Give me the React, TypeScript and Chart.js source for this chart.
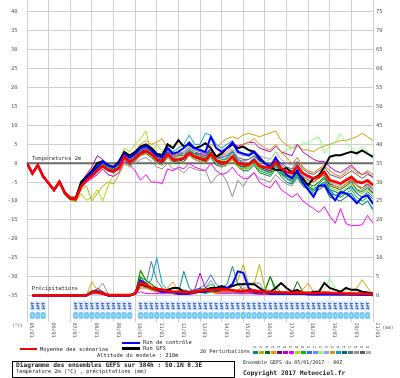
import React, { useEffect, useRef } from "react";
import { Chart, registerables } from "chart.js";
Chart.register(...registerables);

// ---------- data ----------
const dayLabels = ["05/01","06/01","07/01","08/01","09/01","10/01","11/01","12/01","13/01","14/01","15/01","16/01","17/01","18/01","19/01","20/01","21/01"];
const tempTicks = [40,35,30,25,20,15,10,5,0,-5,-10,-15,-20,-25,-30,-35];
const precipTicks = [75,70,65,60,55,50,45,40,35,30,25,20,15,10,5,0];
const stepHours = 6;
const hoursPerDay = 24;

const meanTemp = [0,-2.7,-0.5,-3.5,-5.3,-7.1,-4.9,-7.9,-9.3,-9.5, -6.2,-4.5,-3.3,-2,-0.7,-1.8,-2,-1.4, 1.7,0.3,1.3,2.6,3.3,2.4,1,0.6, 2.4,1,1,1.3,2.6,1.7,1.3,0.8, 2.4,0.8,0.2,0.3,1.8,0.1,-0.3,-0.3, 0.8,-0.7,-1,-1.3,0.3,-1.3,-2.3,-2.6, -0.8,-2.6,-3.4,-4,-3.6,-2.3,-4.5,-4.9, -5.4,-4.5,-3.6,-4.9,-5.2,-4.5,-5.8];
const controlTemp = [0,-2.7,-0.5,-3.5,-5.3,-7.1,-4.9,-7.9,-9.3,-9.5, -6,-4,-2.5,-1,0.5,-0.5,-1,0, 2.5,1.5,2.5,4,4.5,3.5,2,1.5, 4,2.5,3,4,5.5,4,3.5,3, 7,4,3,4,5.5,3,2.5,2, 3,1,0,-1,1.5,-1.5,-3,-4, -2,-5,-7,-8.9,-6,-5.8,-8,-9.8, -7.6,-8,-9,-10.6,-9,-8.5,-10.7];
const gfsTemp = [0,-2.7,-0.5,-3.5,-5.3,-7.1,-4.9,-7.9,-9.3,-9.5, -5,-3.5,-2,0,0.5,-0.5,-1,0.5, 3,2,3,4.4,5,4,2.5,2, 5,4,6.1,4.4,5,4,4.4,5.3, 4,1.7,2.5,4,5,4,4.4,3.5, 3,1.5,0,-1,-1.8,-1.8,-1.3,-2.5, -2.6,-4,-5.8,-4,-3.2,-1,1.7,2.1, 2.1,2.6,3,2.6,3.4,2.5,1.7];
const membersTemp = [
  [0,-2.6,-0.4,-3.4,-5.2,-7.0,-4.7,-7.7,-9.0,-9.2, -6,-4,-3,-1.5,0,-1,-1.5,-0.5, 2.5,1,2,3.5,4,3,1.5,1, 3,1.5,2,2,3.5,2.5,2,1.5, 3.5,1.5,1,1.2,3,0.5,-0.5,0, 1,-1,-2,-2.5,-0.5,-2.5,-4,-4.5, -2.5,-5,-6,-7,-5.5,-4,-7,-7.5, -8.5,-7,-6,-8,-9,-7.5,-9],
  [0,-2.8,-0.7,-3.7,-5.6,-7.4,-5.3,-8.3,-9.8,-10.2, -7,-6,-10,-8,-6,-5,-5.5,-3, 0,-1,1,2,2.5,2,0,-0.5, 1.5,0,0.5,0,2,1,0.5,0, 2,0,-1,-0.5,1,-1,-1.5,-1, 0.5,-1.5,-2,-2.5,-0.5,-2,-3,-3.5, -1,-3.5,-4.5,-5,-4,-3,-5,-6, -6.5,-5.5,-4,-6,-6.5,-5,-6.5],
  [0,-2.7,-0.5,-3.5,-5.3,-7.1,-4.9,-7.9,-9.3,-9.5, -5.5,-4,-2.5,-1.5,0,-1.5,-2,-1, 2,0.5,1.5,3,3.5,2.5,1,0.5, 2.5,0.5,1,1.5,3,2,1.5,1, 3,0.5,0,0.5,2,-0.5,-1,-1, 0.5,-1.5,-2,-2.5,-0.5,-2.5,-3.5,-4, -2,-4.5,-5.5,-6,-5,-3.5,-6,-6.5, -7,-6,-5,-7,-7.5,-6.5,-8],
  [0,-2.7,-0.4,-3.3,-5.1,-6.9,-4.6,-7.5,-8.8,-8.8, -6,-4,-3,-1.5,0,-1,-1,0, 3,2,3,5,6,5,5.5,6.5, 4,2,2.5,2,3.5,2.5,2,1, 3,1.5,2,3,5,4,5,5.5, 6.5,5,4,3.5,5,3,1.5,0, 1.5,-1,-2,-2.5,-1.5,-0.5,-2,-3, -3.5,-2.5,-1,-2.5,-3,-2,-3],
  [0,-2.7,-0.5,-3.5,-5.3,-7.1,-4.9,-7.9,-9.3,-9.5, -6,-4.5,-3.5,-2,-0.5,-2,-2.5,-1.5, 1.5,0,1,2,3,2,0.5,0, 2,0.5,0.5,1,2.5,1.5,1,0.5, 2.5,0.5,-0.5,0,1.5,-0.5,-1,-0.5, 0.5,-1,-1.5,-2,0,-2,-3,-3.5, -1.5,-3.5,-4.5,-5,-4,-3,-5.5,-6, -6.5,-5.5,-4.5,-6,-6.5,-5.5,-7],
  [0,-2.7,-0.4,-3.3,-5.1,-6.9,-4.6,-7.5,-8.8,-8.8, -5,-3,-1,2,1,-0.5,-1,0, 2,1,2,3,4,3,2,1.5, 3,2,2.5,2,3,2.5,2.5,2, 4,2,3,4,5.5,4.5,5,5.5, 5.5,4,3.5,3,4.5,3,2.5,2, 5,3,2,1,0.5,0.5,-1,-2, -2.5,-1.5,-0.5,-2,-3,-2.5,-4],
  [0,-2.8,-0.6,-3.6,-5.4,-7.3,-5.1,-8.1,-9.6,-9.8, -6.5,-5,-4,-3,-1.5,-3,-3.5,-2.5, 0.5,-0.5,-2,-4.5,-3,-5,-5,-5.4, -1.5,-2,-1,-1.5,0,-1,-1.5,-2, 0,-2,-3,-2.5,-1,-3,-4,-4, -2.5,-5,-6,-6.5,-4.5,-7,-8,-9, -8,-10,-11,-12,-13,-11.5,-14,-15.9, -12,-16,-16.5,-16.5,-16.3,-13.8,-15.9],
  [0,-2.8,-0.7,-3.7,-5.6,-7.4,-5.3,-8.3,-9.8,-10.2, -8,-9.8,-9,-7,-10,-6,-3,0, 4,3,5,6.5,8.5,2.6,5,3, 4.5,2,2.5,2,3.5,2.5,2,1.5, 3,1,0.5,1,2.5,0,-0.5,-0.5, 0.5,-1.5,-2,-2.5,-0.5,-2.5,-3.5,-4, -2,-4.5,-5.5,-6.5,-5,-4,-6.5,-7, -7.5,-6.5,-5.5,-7,-8,-7,-8.5],
  [0,-2.6,-0.4,-3.4,-5.2,-7.0,-4.7,-7.7,-9.0,-9.2, -5.5,-4,-3,-1.5,0,-1.5,-1.5,-1, 2,0.5,1.5,3,3.5,2.5,1,0.5, 2.5,1,1,1,2.5,1.5,1,0.5, 2,0,-1,-0.5,1,-1,-1.5,-1.5, 0,-2,-2.5,-3,-1,-3,-4,-5, -3,-5.5,-6.5,-7.5,-6,-5,-8,-8.5, -9,-8,-7,-9,-10,-9,-11],
  [0,-2.7,-0.5,-3.5,-5.3,-7.1,-4.9,-7.9,-9.3,-9.5, -5.5,-3.5,-2.5,-1,0.5,-1,-1,0, 2.5,1.5,2.5,4,4.5,3.5,2,1.5, 3.5,2,2.5,3,4.5,3.5,3,2.5, 4,2,1.5,2,3,1,0,0, 1.5,-0.5,-1.5,-2.5,0,-2.5,-4,-5, -3,-5.5,-6.5,-7.5,-6,-5,-7,-8.5, -8,-7,-6.5,-8,-9,-8,-9.5],
  [0,-2.6,-0.4,-3.4,-5.2,-7.0,-4.7,-7.7,-9.0,-9.2, -6,-4.5,-3,-2,-0.5,-2,-2,-1, 1.5,0,1,2.5,3,2,0.5,0, 2,0.5,0.5,1,2,1,0.5,0, 2,0,-0.5,0,1.5,-0.5,-1,-0.5, 1,-0.5,-1,-1.5,0.5,-1.5,-2.5,-3, -1,-3,-4,-4.5,-3.5,-2.5,-4.5,-5, -5.5,-4.5,-3.5,-5,-5.5,-4.5,-6],
  [0,-2.8,-0.6,-3.6,-5.4,-7.3,-5.1,-8.1,-9.6,-9.8, -6,-4.5,-3,-2,-0.5,-1.5,-2,-1, 2,0.5,1.5,3,3.5,2.5,1,0.5, 2.5,1,1.5,1.5,3,2,1.5,1, 2.5,1,0.5,1,2,0,-0.5,0, 1.5,0,0.5,1,3,2.5,3.5,4, 4,5.5,5,6.5,7,2.6,4.5,5.6, 7.8,5.5,4,3,4.5,3,1],
  [0,-2.7,-0.4,-3.3,-5.1,-6.9,-4.6,-7.5,-8.8,-8.8, -5.5,-4,-2.5,0,0.5,-1,-1.5,-0.5, 2,1,2,3,4,3,1.5,1, 3,1.5,2,2,3,2,2,1.5, 3,1.5,2,2.5,4,2.5,2,2.5, 3.5,2,1.5,1,3,1,0,-0.5, 1.5,-1,-2,-2.5,-1.5,-0.5,-2,-3, -3.5,-2,-1,-2.5,-3,-2,-3],
  [0,-2.6,-0.4,-3.4,-5.2,-7.0,-4.7,-7.7,-9.0,-9.2, -6,-4.5,-3.5,-2,-0.5,-1.5,-2,-1, 1.5,0.5,1.5,2.5,3,2.5,1,1, 2.5,1,1.5,1.5,3,2.5,2.5,3, 5,4,5.5,6.5,7,6.5,7.5,7.9, 7.5,7,7.5,8,8.5,6,4.8,4, 5,3.5,3.5,3,4,4.5,5,5.5, 6,6,6.5,7,7.9,7,6],
  [0,-2.7,-0.4,-3.3,-5.1,-6.9,-4.6,-7.5,-8.8,-8.8, -5,-3.5,-2,-0.5,1,-0.5,-1,0.5, 3,2,3,4.5,5,4,2.5,2.5, 4.5,3,4,5,7.4,5,5,7.9, 7.4,5,4,5,6,3.5,2.5,2.5, 3,1,0,-1,1,-1.5,-3,-4, -2,-4.5,-6,-7,-6,-5,-7.5,-8.5, -9,-8,-8,-10,-11,-10,-12],
  [0,-2.8,-0.6,-3.6,-5.4,-7.3,-5.1,-8.1,-9.6,-9.8, -6,-4.5,-3.5,-2,-1,-2,-2.5,-1.5, 1,-0.5,0.5,2,2.5,1.5,0,-0.5, 1.5,0,0,0.5,2,1,0.5,0, 1.5,-0.5,-1,-0.5,1,-1,-2,-2, -0.5,-2.5,-3,-3.5,-1.5,-3.5,-5,-5.5, -3.5,-6,-7,-8,-7,-6,-9,-9.5, -10,-9,-8,-10,-11,-10,-12.4],
  [0,-2.7,-0.5,-3.5,-5.3,-7.1,-4.9,-7.9,-9.3,-9.5, -5.5,-4,-3,-1.5,0,-1,-1.5,-0.5, 2.5,1.5,2,3.5,4,3,1.5,1, 3,1.5,2,2,3.5,2.5,2,1.5, 3,1,0.5,1.5,3,1,0.5,1, 2,0.5,0,-0.5,1.5,-0.5,-1.5,-2, 0,-2.5,-3.5,-4,-3,-2,-4.5,-5, -5.5,-4.5,-4,-6,-7,-6,-8],
  [0,-2.8,-0.7,-3.7,-5.6,-7.4,-5.3,-8.3,-9.8,-10.2, -6,-5,-4,-3,-1.5,-3,-3.5,-2.5, 0,-1,0,1,1.5,0.5,-1,-1.5, 0,-1.5,-1.5,-2.6,-1,-1.5,-2,-1.8, -5.3,-3.5,-2.6,-5,-8.9,-4.5,-6.2,-3.6, -2.5,-4,-4.5,-5,-3,-4.5,-5.5,-6, -4,-6,-6.5,-7,-6,-5,-7,-7.5, -8,-7,-6,-7.5,-8,-7,-7.5],
  [0,-2.6,-0.4,-3.4,-5.2,-7.0,-4.7,-7.7,-9.0,-9.2, -5.5,-4,-2.5,-1,0,-1,-1.5,0, 2.5,1.5,2.5,3.5,4,3,2,1.5, 3.5,2,2.5,2.5,4,3,2.5,2, 3.5,1.5,1.5,2,3.5,1.5,1,1, 2,0.5,0,-0.5,1.5,0,-1,-1.5, 0.5,-1.5,-2.5,-3,-2,-1,-3,-3.5, -4,-3,-2,-3,-4,-3,-3.5],
  [0,-2.8,-0.6,-3.6,-5.4,-7.3,-5.1,-8.1,-9.6,-9.8, -6,-4.5,-3.5,-2,-0.5,-2,-2.5,-1.5, 1.5,0,1,2.5,3,2,0.5,0, 2,0.5,1,1,2.5,1.5,1,0.5, 2.5,0.5,0,0.5,2,0,-0.5,-0.5, 1,-1,-1.5,-2,0,-2,-3,-3.5, -1.5,-3.5,-4.5,-5,-4,-3,-5,-5.5, -6,-5,-4,-5.5,-6.5,-5.5,-7],
];

const meanPrecip = [null,0,0,0,0,0,0,0,0,0,0,0, 1,0.8,0.5,0.2,0.1,0.1,0.1,0.1, 0.5,3.4,2.8,2,1.7,1.5,1.2,1, 1,0.9,0.8,1,1.2,1.4,1.5,1.6, 1.7,1.6,1.4,1.2,1.2,1.4,1.3,1.1, 1,0.9,0.9,0.8,0.8,0.7,0.8,0.7, 0.7,0.6,0.7,0.8,0.7,0.6,0.6,0.5, 0.5,0.5,0.5,0.4,0.3];
const controlPrecip = [null,0,0,0,0,0,0,0,0,0,0,0, 1,1,0.5,0,0,0,0,0, 0.5,4,3,2,1.5,1,1,1, 0.5,0.5,0.5,1,1,1,1.5,1.5, 2,2,3,6.4,6,2,1,1, 1,0.5,0.5,0.5,0.5,0.5,0.5,0.5, 0.3,0.3,0.3,0.3,0.3,0.3,0.3,0.3, 0.3,0.3,0.2,0.2,0.1];
const gfsPrecip = [null,0,0,0,0,0,0,0,0,0,0,0, 1,1,0.5,0,0,0,0,0, 0.5,3,2.5,2,1.5,1,1.5,2, 2,1,1,1,1,1.5,2,2, 2.5,2,2.5,3,3,3,3,2, 1,1,2,3.3,2,1,1.5,0.5, 0.5,1,1,3.3,2,1.5,1,2, 1.5,1.5,1,0.8,0.5];
const membersPrecip = [
  [null,0,0,0,0,0,0,0,0,0,0,0, 0.5,1,0.5,0,0,0,0,0, 1,4,3,2,1.5,1,1,0.5, 0.5,6.4,2,1,1,0.5,1,1.5, 2,3,7.7,3,1.5,1,1.5,1, 0.5,0.5,0.5,0.3,0.3,0.5,0.5,0.3, 0.3,0.2,0.2,0.5,0.3,0.2,0.2,0.2, 0.1,0.2,0.2,0.1,0.1],
  [null,0,0,0,0,0,0,0,0,0,0,0, 3.6,1.5,0.5,0,0,0,0,0, 0.5,3,2,1.5,1,2,1,0.5, 1,0.5,0.5,1,1,1.5,1,2, 2.5,2,3,4,8.2,3,3,8.2, 2,1,0.5,1,0.5,0.5,1,0.5, 0.5,0.3,0.5,0.5,0.5,0.5,0.3,0.5, 1,2,4.2,2,0.5],
  [null,0,0,0,0,0,0,0,0,0,0,0, 1,1.5,0.5,0,0,0,0,0, 0.5,6.5,4,3,2,1.5,1,1, 0.5,0.5,1,0.5,1,1,1.5,1, 1.5,2,1.5,1,1,1.5,1,1, 1.5,5,1,0.5,0.5,0.5,3.7,1, 0.5,0.5,0.5,0.3,0.5,0.3,0.3,0.3, 0.2,0.3,0.2,0.2,0.1],
  [null,0,0,0,0,0,0,0,0,0,0,0, 1,0.5,0.5,0,0,0,0,0, 0.5,2,2,1.5,1,1,2,3.6, 1,0.5,0.5,1,1,1,1,0.5, 1,1,1,1.5,1,1,1,1, 0.5,1,0.5,0.5,0.5,1,1,1.5, 3.3,1,0.5,0.5,0.5,0.5,1,0.5, 0.3,0.3,0.5,0.3,0.2],
  [null,0,0,0,0,0,0,0,0,0,0,0, 0.5,1,1,0,0,0,0,0, 0.5,4,3,2,2,1.5,1,0.5, 0.5,0.5,0.5,1,2,1,1,1, 1,1,1.5,1,1,1,0.5,0.5, 0.5,0.5,0.5,0.5,0.3,0.3,0.3,0.3, 0.3,0.3,0.3,0.3,0.3,0.3,0.3,0.3, 0.2,0.2,0.2,0.2,0.1],
  [null,0,0,0,0,0,0,0,0,0,0,0, 0.5,2,1,0,0,0,0,0, 0.5,3,2,1.5,1,1,1,1, 1,1,1,1.5,5.9,2,1,1.5, 2,1,1.5,1,1.5,1,1,1, 1,0.5,0.5,0.5,1,0.5,0.5,0.5, 0.5,0.5,0.5,0.5,0.3,0.3,0.3,0.3, 0.3,0.3,0.3,0.2,0.1],
  [null,0,0,0,0,0,0,0,0,0,0,0, 0.5,0.5,0.5,0,0,0,0,0, 0.5,1,0.5,0.5,0.5,0.5,0.5,0.5, 0.3,0.3,0.3,0.5,1,1.5,1,0.5, 0.5,0.5,0.5,0.5,0.5,0.5,0.5,0.3, 0.3,0.3,0.3,0.3,0.3,0.3,0.3,0.3, 0.3,0.2,0.2,0.2,0.2,0.2,0.2,0.2, 0.2,0.2,0.2,0.1,0.1],
  [null,0,0,0,0,0,0,0,0,0,0,0, 1.5,1,0.5,0,0,0,0,0, 0.5,7,4,2.5,2,1.5,1,1, 1,0.5,0.5,1,1,1,1.5,1, 1,1,1.5,1,1,1,1,1, 0.5,0.5,0.5,0.5,0.5,0.5,0.5,0.5, 0.5,0.5,0.3,0.3,0.3,0.3,0.3,0.3, 0.3,0.3,0.2,0.2,0.1],
  [null,0,0,0,0,0,0,0,0,0,0,0, 1,1,0.5,0,0,0,0,0, 0.5,5,4,3,2,1.5,1,1, 1,1,1,1,1.5,2,3,2, 1.5,1,1,1,1,1,1,1, 1,5,2,1,0.5,1,1,0.5, 0.5,0.5,0.5,0.5,0.5,0.3,0.3,0.3, 0.3,0.3,0.2,0.2,0.1],
  [null,0,0,0,0,0,0,0,0,0,0,0, 0.5,1,0.5,0,0,0,0,0, 0.5,5,3,2,1.5,1,1,1, 1,1,1,1.5,2,3,5.5,3, 2,1,1,1,1,1,1,1, 0.5,0.5,0.5,0.5,0.5,0.5,0.5,0.3, 0.3,0.3,0.3,0.3,0.3,0.3,0.3,0.3, 0.3,0.3,0.2,0.2,0.1],
  [null,0,0,0,0,0,0,0,0,0,0,0, 0.5,1,0.5,0,0,0,0,0, 0.5,3,2,2,1.5,1,1,0.5, 0.5,0.5,1,1,1.5,2,4,2, 1,1,1,0.5,0.5,0.5,0.5,0.5, 0.5,0.3,0.3,0.3,0.3,0.3,0.3,0.3, 0.3,0.3,0.3,0.3,0.3,0.3,0.3,0.3, 0.2,0.2,0.2,0.1,0.1],
  [null,0,0,0,0,0,0,0,0,0,0,0, 0.5,0.5,0.5,0,0,0,0,0, 0.5,3,2,1.5,1,1,1,1, 0.5,0.5,1,1,1,1,1,1, 1,1,1,1,1,1,1,1, 1,1,1,1,1,0.5,0.5,1, 1,1,1,1.5,4.5,2,1,1, 0.5,0.5,0.5,0.3,0.2],
  [null,0,0,0,0,0,0,0,0,0,0,0, 0.5,0.5,0.5,0,0,0,0,0, 0.5,2,2,1.5,1,1,1,1, 1,1,1,1,1.5,1,1,1, 1,1,1,1,1,1,0.5,0.5, 0.5,0.5,0.5,0.5,0.5,0.5,0.5,0.5, 0.5,0.3,0.3,0.3,0.3,0.3,0.3,0.3, 0.3,0.3,0.2,0.2,0.1],
  [null,0,0,0,0,0,0,0,0,0,0,0, 1,1,0.5,0,0,0,0,0, 0.5,2,3.5,2,1,1,1.5,1, 1,0.5,0.5,0.5,1,1,1,1, 1,1,1,1.5,2,2,1.5,1, 1,1,0.5,0.5,0.5,0.5,0.5,0.5, 0.5,0.5,0.5,0.5,0.5,0.5,0.5,0.5, 0.5,0.5,0.5,0.3,0.2],
  [null,0,0,0,0,0,0,0,0,0,0,0, 0.5,1,0.5,0,0,0,0,0, 0.5,4,3,4,10,3,1.5,1, 1,1,1,1,1.5,1,1,1.5, 1,1,1,1,1,1,1,1, 0.5,0.5,0.5,0.5,0.5,0.5,0.5,0.3, 0.3,0.3,0.3,0.3,0.3,0.3,0.3,0.3, 0.3,0.3,0.2,0.2,0.1],
  [null,0,0,0,0,0,0,0,0,0,0,0, 0.5,1,0.5,0,0,0,0,0, 0.5,5,3,2,2,1.5,1,1, 1,1.5,1,1,1,1,1,1, 1,1,1,1,1,1,1,1, 0.5,0.5,0.5,0.5,0.5,0.5,0.5,0.5, 0.5,0.3,0.3,0.3,0.3,0.3,0.3,0.3, 0.3,0.2,0.2,0.2,0.1],
  [null,0,0,0,0,0,0,0,0,0,0,0, 1,1.5,1,0,0,0,0,0, 0.5,4,3,9,4,2,1,1, 1,1,1,1,1,1,1,1, 1,1,1,1,1,1,1,1, 0.5,0.5,0.5,0.5,0.5,0.5,0.5,0.5, 0.3,0.3,0.3,0.3,0.3,0.3,0.3,0.3, 0.3,0.2,0.2,0.2,0.1],
  [null,0,0,0,0,0,0,0,0,0,0,0, 1,1.5,3.3,0.5,0,0,0,0, 0.5,3,2,1.5,1,1,1,1, 1,1,1,1,1,1,1,1, 1,1,1,1,3.3,3.3,3.3,3.3, 1,0.5,0.5,0.5,0.5,0.5,0.5,0.5, 0.5,0.5,0.3,0.3,0.3,0.3,0.3,0.3, 0.3,0.3,0.2,0.2,0.1],
  [null,0,0,0,0,0,0,0,0,0,0,0, 0.5,1,0.5,0,0,0,0,0, 0.5,3,2,1.5,1,1,1,1, 1,1,1,1,1,1,1.5,1, 1,1,1,1,1,1,1,1, 1,1,0.5,0.5,0.5,0.5,0.5,0.5, 0.5,0.5,0.5,0.5,0.5,0.5,0.5,0.5, 0.3,0.3,0.3,0.2,0.1],
  [null,0,0,0,0,0,0,0,0,0,0,0, 0.5,1,0.5,0,0,0,0,0, 0.5,3,2,2,1.5,1,1,1, 1,1,1,1,1,1,1,1, 1,1,1,1,1,1,1,1, 0.5,0.5,0.5,0.5,0.5,0.5,0.5,0.5, 0.5,0.3,0.3,0.3,0.3,0.3,0.3,0.3, 0.3,0.2,0.2,0.2,0.1],
];

const snowIcons = [0,1,1,1,0,0,0,0,0,1,1,1,1,1,1,1,1,1,1,1,0, 1,1,1,1,1,1,1,1,1,1,1,1,1,1,1,1,1,1,1,1,1,1,1,1,1,1,1,1,1,1,1,1,1,1,1,1,1,1,1,1,1,1,1, 0];

const memberLabels = ["01","02","03","04","05","06","07","08","09","10","11","12","13","14","15","16","17","18","19","20"];
const memberColors = ["#008b8b","#b4b400","#007000","#ff8c00","#800080","#c000c0","#ff00ff","#a0e000","#00c000","#3070ff","#8080ff","#80ff80","#b090f0","#d0a000","#00a0d0","#006868","#507890","#909090","#606060","#b0b0b0"];

const MONO = '"DejaVu Sans Mono", monospace';

const toPts = (arr: (number | null)[]) => arr.map((v, i) => ({ x: i * stepHours, y: v }));

const decor = {
  id: "decor",
  beforeDatasetsDraw(chart: any) {
    const { ctx, chartArea: a, scales } = chart;
    const y0 = scales.y.getPixelForValue(0);
    ctx.save();
    ctx.strokeStyle = "#6a6a6a";
    ctx.lineWidth = 2;
    ctx.beginPath();
    ctx.moveTo(a.left, y0);
    ctx.lineTo(a.right, y0);
    ctx.stroke();
    // snow icons
    snowIcons.forEach((f, i) => {
      if (!f) return;
      const px = scales.x.getPixelForValue(i * stepHours);
      ctx.fillStyle = "#d4f4ff";
      ctx.fillRect(px - 2.6, 301, 5.2, 10);
      ctx.strokeStyle = "#5a4fd0";
      ctx.lineWidth = 0.9;
      ctx.beginPath();
      ctx.moveTo(px - 1.6, 303.5); ctx.lineTo(px + 1.6, 303.5);
      ctx.moveTo(px - 1.6, 306); ctx.lineTo(px + 1.6, 306);
      ctx.moveTo(px - 1.6, 308.5); ctx.lineTo(px + 1.6, 308.5);
      ctx.moveTo(px - 1.2, 302.5); ctx.lineTo(px + 1.2, 309.5);
      ctx.stroke();
      ctx.fillStyle = "#79c9f2";
      ctx.beginPath();
      ctx.roundRect(px - 2.6, 312, 5.2, 7, 2);
      ctx.fill();
      ctx.fillStyle = "#ffffff";
      ctx.fillRect(px - 0.5, 315, 1, 1);
    });
    ctx.restore();
  },
  afterDraw(chart: any) {
    const { ctx, scales } = chart;
    ctx.save();
    ctx.fillStyle = "#555";
    ctx.font = `5.5px ${MONO}`;
    ctx.textBaseline = "middle";
    ctx.textAlign = "right";
    tempTicks.forEach((v) => ctx.fillText(String(v), 17.5, scales.y.getPixelForValue(v)));
    ctx.textAlign = "left";
    precipTicks.forEach((v) => ctx.fillText(String(v), 376, scales.y2.getPixelForValue(v)));
    ctx.font = `4.6px ${MONO}`;
    ctx.fillText("(°C)", 12, 325.5);
    ctx.fillText("(mm)", 382.5, 328);
    ctx.font = `5px ${MONO}`;
    dayLabels.forEach((lab, d) => {
      const px = scales.x.getPixelForValue(d * hoursPerDay);
      ctx.save();
      ctx.translate(px + 4.5, 322.5);
      ctx.rotate(Math.PI / 2);
      ctx.textAlign = "left";
      ctx.textBaseline = "middle";
      ctx.fillText(lab, 0, 0);
      ctx.restore();
    });
    ctx.fillStyle = "#333";
    ctx.font = `5.5px ${MONO}`;
    ctx.textAlign = "left";
    ctx.fillText("Températures 2m", 31.7, scales.y.getPixelForValue(0) - 4.7);
    ctx.fillText("Précipitations", 31.7, scales.y2.getPixelForValue(0) - 7);
    ctx.restore();
  },
};

function Txt({ left, cy, size, bold, children, color }: any) {
  return (
    <div
      style={{
        position: "absolute",
        left,
        top: cy - size / 2,
        fontSize: size,
        lineHeight: `${size}px`,
        fontFamily: MONO,
        fontWeight: bold ? "bold" : "normal",
        whiteSpace: "pre",
        color: color || "#222",
      }}
    >
      {children}
    </div>
  );
}

export default function App() {
  const ref = useRef<HTMLCanvasElement>(null);
  useEffect(() => {
    if (!ref.current) return;
    const datasets: any[] = [];
    membersTemp.forEach((row, k) => {
      datasets.push({ data: toPts(row), borderColor: memberColors[k], borderWidth: 1, yAxisID: "y", order: 10 });
    });
    membersPrecip.forEach((row, k) => {
      datasets.push({ data: toPts(row), borderColor: memberColors[k], borderWidth: 1, yAxisID: "y2", order: 10 });
    });
    datasets.push({ data: toPts(gfsTemp), borderColor: "#000000", borderWidth: 2, yAxisID: "y", order: 3 });
    datasets.push({ data: toPts(gfsPrecip), borderColor: "#000000", borderWidth: 2, yAxisID: "y2", order: 3 });
    datasets.push({ data: toPts(controlTemp), borderColor: "#0000ff", borderWidth: 2, yAxisID: "y", order: 2 });
    datasets.push({ data: toPts(controlPrecip), borderColor: "#0000ff", borderWidth: 2, yAxisID: "y2", order: 2 });
    datasets.push({ data: toPts(meanTemp), borderColor: "#ff0000", borderWidth: 2.6, yAxisID: "y", order: 0 });
    datasets.push({ data: toPts(meanPrecip), borderColor: "#ff0000", borderWidth: 2.6, yAxisID: "y2", order: 0 });

    const chart = new Chart(ref.current, {
      type: "line",
      data: { datasets },
      options: {
        animation: false,
        responsive: false,
        devicePixelRatio: 1,
        layout: { padding: { left: 27, right: 27, top: 0, bottom: 56 } },
        plugins: { legend: { display: false }, tooltip: { enabled: false } },
        elements: { point: { radius: 0 }, line: { tension: 0, fill: false } },
        scales: {
          x: {
            type: "linear",
            min: 0,
            max: (dayLabels.length - 1) * hoursPerDay,
            afterBuildTicks: (a: any) => { a.ticks = dayLabels.map((_, d) => ({ value: d * hoursPerDay })); },
            ticks: { display: false },
            grid: { color: "#d0d0d0", drawTicks: false, lineWidth: 1 },
            border: { display: false },
          },
          y: {
            position: "left",
            min: -42,
            max: 43.17,
            afterBuildTicks: (a: any) => { a.ticks = tempTicks.map((v) => ({ value: v })); },
            ticks: { display: false },
            grid: { color: "#d0d0d0", drawTicks: false, lineWidth: 1 },
            border: { display: false },
          },
          y2: {
            position: "right",
            min: -7,
            max: 78.17,
            afterBuildTicks: (a: any) => { a.ticks = precipTicks.map((v) => ({ value: v })); },
            ticks: { display: false },
            grid: { display: false, drawTicks: false },
            border: { display: false },
          },
        },
      } as any,
      plugins: [decor],
    });
    return () => chart.destroy();
  }, []);

  return (
    <div style={{ position: "absolute", left: 0, top: 0, width: 400, height: 378, background: "#fff", overflow: "hidden" }}>
      <canvas ref={ref} width={400} height={378} style={{ position: "absolute", left: 0, top: 0, width: 400, height: 378 }} />
      <div style={{ position: "absolute", left: 20, top: 348.2, width: 17, height: 2.2, background: "#ff0000" }} />
      <Txt left={40} cy={349.3} size={5.4}>Moyenne des scénarios</Txt>
      <div style={{ position: "absolute", left: 122, top: 341.6, width: 18, height: 2.4, background: "#0000ff" }} />
      <div style={{ position: "absolute", left: 122, top: 347.2, width: 18, height: 2.4, background: "#000" }} />
      <Txt left={143} cy={343} size={5.4}>Run de contrôle</Txt>
      <Txt left={143} cy={348.4} size={5.4}>Run GFS</Txt>
      <Txt left={97} cy={356} size={5.4}>Altitude du modele : 210m</Txt>
      <Txt left={200} cy={351.7} size={5.2}>20 Perturbations</Txt>
      {memberColors.map((c, k) => (
        <React.Fragment key={k}>
          <div style={{ position: "absolute", left: 253.3 + k * 5.92, top: 350.5, width: 5, height: 3.6, background: c }} />
          <Txt left={253.3 + k * 5.92} cy={347.6} size={2.8} color="#444">{memberLabels[k]}</Txt>
        </React.Fragment>
      ))}
      <div style={{ position: "absolute", left: 12, top: 360.5, width: 223, height: 17, border: "1px solid #000", boxSizing: "border-box" }} />
      <Txt left={16} cy={365.5} size={6.2} bold>Diagramme des ensembles GEFS sur 384h : 50.1N 8.3E</Txt>
      <Txt left={16} cy={371.2} size={5.3}>Température 2m (°C) , précipitations (mm)</Txt>
      <Txt left={243} cy={362.3} size={5}>Ensemble GEFS du 05/01/2017 - 00Z</Txt>
      <Txt left={243} cy={372.7} size={6.3} bold>Copyright 2017 Meteociel.fr</Txt>
    </div>
  );
}
